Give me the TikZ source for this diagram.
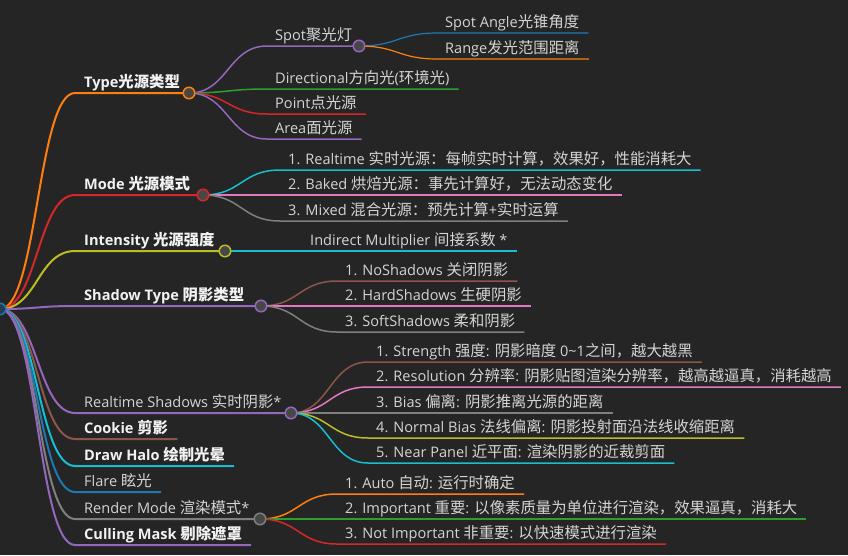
\documentclass[tikz,border=0pt]{standalone}
\usepackage{fontspec}
\setmainfont{Open Sans}[Scale=0.97]
\newfontfamily\cjk{Noto Sans CJK SC}[Scale=1.025]
\newcommand\zh[1]{{\cjk #1}}
\usetikzlibrary{calc}
\definecolor{bg}{HTML}{252526}
\definecolor{txtc}{HTML}{D4D4D4}
\definecolor{btxtc}{HTML}{F2F2F2}
\definecolor{dotfill}{HTML}{474747}
\definecolor{cBlue}{HTML}{1F77B4}
\definecolor{cOrange}{HTML}{FF7F0E}
\definecolor{cGreen}{HTML}{2CA02C}
\definecolor{cRed}{HTML}{D62728}
\definecolor{cPurple}{HTML}{9467BD}
\definecolor{cBrown}{HTML}{8C564B}
\definecolor{cPink}{HTML}{E377C2}
\definecolor{cGray}{HTML}{7F7F7F}
\definecolor{cOlive}{HTML}{BCBD22}
\definecolor{cCyan}{HTML}{17BECF}
\tikzset{
  txt/.style={anchor=base west, inner sep=0pt, text=txtc, font=\fontsize{15}{18}\selectfont},
  btxt/.style={anchor=base west, inner sep=0pt, text=btxtc, font=\fontsize{15}{18}\selectfont\bfseries},
  dot/.style={circle, draw=#1, fill=dotfill, line width=1.5pt, minimum size=11.5pt, inner sep=0pt},
  lone/.style={line width=2pt},
  ltwo/.style={line width=1.5pt},
  lthree/.style={line width=1.2pt}
}
\newcommand\mmlink[4]{%
  \coordinate (mmM) at ($(#2)!0.5!(#3)$);
  \draw[#1] (#2) .. controls (mmM |- #2) and (mmM |- #3) .. (#3) -- (#4);
}
\begin{document}
\begin{tikzpicture}[x=1pt,y=-1pt]
\useasboundingbox[fill=bg] (0,0) rectangle (848,555);
% ---------- anchor coordinates ----------
\coordinate (root) at (0,309);
\coordinate (typeS) at (75,93);   \coordinate (typeC) at (189,93);
\coordinate (modeS) at (75,195);  \coordinate (modeC) at (203,195);
\coordinate (intS) at (75,251);   \coordinate (intC) at (225,251);
\coordinate (shS) at (75,306);    \coordinate (shC) at (261,306);
\coordinate (rtS) at (75,413);    \coordinate (rtC) at (291,413);
\coordinate (ckS) at (75,439);
\coordinate (dhS) at (75,466);
\coordinate (flS) at (75,492);
\coordinate (rmS) at (75,519);    \coordinate (rmC) at (260,519);
\coordinate (cmS) at (75,545);
% type children
\coordinate (spotS) at (267,46);  \coordinate (spotC) at (359,46);
\coordinate (dirS) at (267,89);
\coordinate (pointS) at (267,114);
\coordinate (areaS) at (267,139);
\coordinate (saS) at (437,33);
\coordinate (rgS) at (437,59);
% mode children
\coordinate (m1S) at (280,170);
\coordinate (m2S) at (280,195);
\coordinate (m3S) at (280,221);
% intensity child
\coordinate (imS) at (302,251);
% shadow type children
\coordinate (s1S) at (337,281);
\coordinate (s2S) at (337,306);
\coordinate (s3S) at (337,332);
% realtime shadows children
\coordinate (r1S) at (368,362);
\coordinate (r2S) at (368,387);
\coordinate (r3S) at (368,413);
\coordinate (r4S) at (368,438);
\coordinate (r5S) at (368,463);
% render mode children
\coordinate (d1S) at (337,494);
\coordinate (d2S) at (337,519);
\coordinate (d3S) at (337,544);
% ---------- texts ----------
\node[btxt] (typeT) at ($(typeS)+(9,-5.5)$) {Type\zh{光源类型}};
\node[btxt] (modeT) at ($(modeS)+(9,-5.5)$) {Mode \zh{光源模式}};
\node[btxt] (intT) at ($(intS)+(9,-5.5)$) {Intensity \zh{光源强度}};
\node[btxt] (shT) at ($(shS)+(9,-5.5)$) {Shadow Type \zh{阴影类型}};
\node[txt] (rtT) at ($(rtS)+(9,-5.5)$) {Realtime Shadows \zh{实时阴影}*};
\node[btxt] (ckT) at ($(ckS)+(9,-5.5)$) {Cookie \zh{剪影}};
\node[btxt] (dhT) at ($(dhS)+(9,-5.5)$) {Draw Halo \zh{绘制光晕}};
\node[txt] (flT) at ($(flS)+(9,-5.5)$) {Flare \zh{眩光}};
\node[txt] (rmT) at ($(rmS)+(9,-5.5)$) {Render Mode \zh{渲染模式}*};
\node[btxt] (cmT) at ($(cmS)+(9,-5.5)$) {Culling Mask \zh{剔除遮罩}};
\node[txt] (spotT) at ($(spotS)+(8,-5.5)$) {Spot\zh{聚光灯}};
\node[txt] (dirT) at ($(dirS)+(8,-5.5)$) {Directional\zh{方向光}(\zh{环境光})};
\node[txt] (pointT) at ($(pointS)+(8,-5.5)$) {Point\zh{点光源}};
\node[txt] (areaT) at ($(areaS)+(8,-5.5)$) {Area\zh{面光源}};
\node[txt] (saT) at ($(saS)+(8,-5.5)$) {Spot Angle\zh{光锥角度}};
\node[txt] (rgT) at ($(rgS)+(8,-5.5)$) {Range\zh{发光范围距离}};
\node[txt] (m1T) at ($(m1S)+(8,-5.5)$) {1. Realtime \zh{实时光源：每帧实时计算，效果好，性能消耗大}};
\node[txt] (m2T) at ($(m2S)+(8,-5.5)$) {2. Baked \zh{烘焙光源：事先计算好，无法动态变化}};
\node[txt] (m3T) at ($(m3S)+(8,-5.5)$) {3. Mixed \zh{混合光源：预先计算}+\zh{实时运算}};
\node[txt] (imT) at ($(imS)+(8,-5.5)$) {Indirect Multiplier \zh{间接系数} *};
\node[txt] (s1T) at ($(s1S)+(8,-5.5)$) {1. NoShadows \zh{关闭阴影}};
\node[txt] (s2T) at ($(s2S)+(8,-5.5)$) {2. HardShadows \zh{生硬阴影}};
\node[txt] (s3T) at ($(s3S)+(8,-5.5)$) {3. SoftShadows \zh{柔和阴影}};
\node[txt] (r1T) at ($(r1S)+(8,-5.5)$) {1. Strength \zh{强度}: \zh{阴影暗度} 0{\char"7E}1\zh{之间，越大越黑}};
\node[txt] (r2T) at ($(r2S)+(8,-5.5)$) {2. Resolution \zh{分辨率}: \zh{阴影贴图渲染分辨率，越高越逼真，消耗越高}};
\node[txt] (r3T) at ($(r3S)+(8,-5.5)$) {3. Bias \zh{偏离}: \zh{阴影推离光源的距离}};
\node[txt] (r4T) at ($(r4S)+(8,-5.5)$) {4. Normal Bias \zh{法线偏离}: \zh{阴影投射面沿法线收缩距离}};
\node[txt] (r5T) at ($(r5S)+(8,-5.5)$) {5. Near Panel \zh{近平面}: \zh{渲染阴影的近裁剪面}};
\node[txt] (d1T) at ($(d1S)+(8,-5.5)$) {1. Auto \zh{自动}: \zh{运行时确定}};
\node[txt] (d2T) at ($(d2S)+(8,-5.5)$) {2. Important \zh{重要}: \zh{以像素质量为单位进行渲染，效果逼真，消耗大}};
\node[txt] (d3T) at ($(d3S)+(8,-5.5)$) {3. Not Important \zh{非重要}: \zh{以快速模式进行渲染}};
% ---------- leaf ends ----------
\foreach \n in {ck,dh,fl,cm,dir,point,area,sa,rg,m1,m2,m3,im,s1,s2,s3,r1,r2,r3,r4,r5,d1,d2,d3}
  \coordinate (\n E) at ($(\n S -| \n T.east)+(9,0)$);
% ---------- links level 1 ----------
\mmlink{lone,cOrange}{root}{typeS}{typeC}
\mmlink{lone,cRed}{root}{modeS}{modeC}
\mmlink{lone,cOlive}{root}{intS}{intC}
\mmlink{lone,cPurple}{root}{shS}{shC}
\mmlink{lone,cPurple}{root}{rtS}{rtC}
\mmlink{lone,cBrown}{root}{ckS}{ckE}
\mmlink{lone,cCyan}{root}{dhS}{dhE}
\mmlink{lone,cBlue}{root}{flS}{flE}
\mmlink{lone,cGray}{root}{rmS}{rmC}
\mmlink{lone,cPurple}{root}{cmS}{cmE}
% ---------- links level 2 ----------
\mmlink{ltwo,cPurple}{typeC}{spotS}{spotC}
\mmlink{ltwo,cGreen}{typeC}{dirS}{dirE}
\mmlink{ltwo,cRed}{typeC}{pointS}{pointE}
\mmlink{ltwo,cPurple}{typeC}{areaS}{areaE}
\mmlink{lthree,cBlue}{spotC}{saS}{saE}
\mmlink{lthree,cOrange}{spotC}{rgS}{rgE}
\mmlink{ltwo,cCyan}{modeC}{m1S}{m1E}
\mmlink{ltwo,cPink}{modeC}{m2S}{m2E}
\mmlink{ltwo,cGray}{modeC}{m3S}{m3E}
\mmlink{ltwo,cCyan}{intC}{imS}{imE}
\mmlink{ltwo,cBrown}{shC}{s1S}{s1E}
\mmlink{ltwo,cPink}{shC}{s2S}{s2E}
\mmlink{ltwo,cGray}{shC}{s3S}{s3E}
\mmlink{ltwo,cBrown}{rtC}{r1S}{r1E}
\mmlink{ltwo,cPink}{rtC}{r2S}{r2E}
\mmlink{ltwo,cGray}{rtC}{r3S}{r3E}
\mmlink{ltwo,cOlive}{rtC}{r4S}{r4E}
\mmlink{ltwo,cCyan}{rtC}{r5S}{r5E}
\mmlink{ltwo,cOrange}{rmC}{d1S}{d1E}
\mmlink{ltwo,cGreen}{rmC}{d2S}{d2E}
\mmlink{ltwo,cRed}{rmC}{d3S}{d3E}
% ---------- circles ----------
\node[dot=cBlue, fill=bg!70!cBlue] (rootDot) at (root) {};
\node[dot=cOrange] (typeDot) at (typeC) {};
\node[dot=cRed] (modeDot) at (modeC) {};
\node[dot=cOlive] (intDot) at (intC) {};
\node[dot=cPurple] (shDot) at (shC) {};
\node[dot=cPurple] (rtDot) at (rtC) {};
\node[dot=cGray] (rmDot) at (rmC) {};
\node[dot=cPurple] (spotDot) at (spotC) {};
\end{tikzpicture}
\end{document}
